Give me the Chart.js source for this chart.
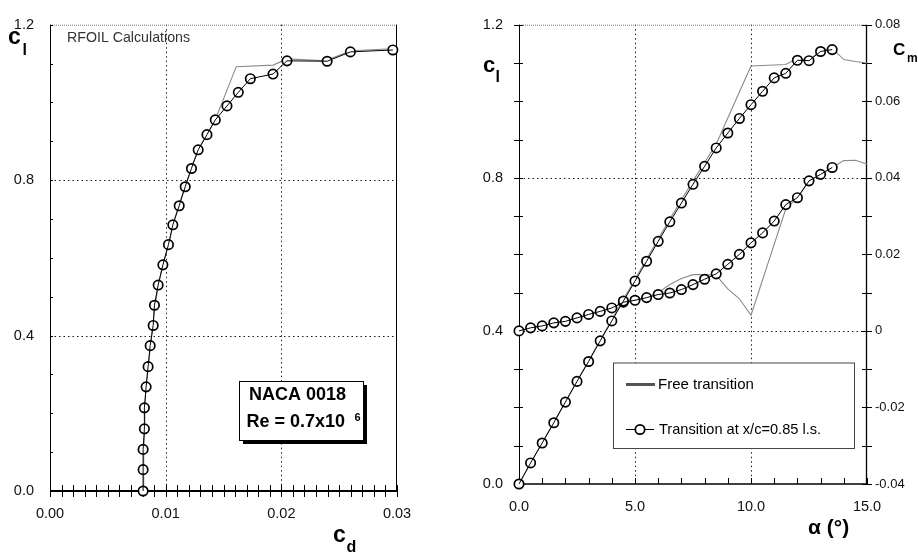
<!DOCTYPE html>
<html>
<head>
<meta charset="utf-8">
<script src="https://cdn.jsdelivr.net/npm/chart.js@4"></script>
<style>
  html, body { margin: 0; padding: 0; background: #fff; }
  #wrap { position: relative; width: 918px; height: 552px; }
  canvas { position: absolute; top: 0; }
  #polar { left: 0; }
  #alpha { left: 459px; }
</style>
</head>
<body>
<div id="wrap">
  <canvas id="polar" width="459" height="552"></canvas>
  <canvas id="alpha" width="459" height="552"></canvas>
</div>
<script>
// transition fixed at x/c = 0.85 lower surface
const fixedAlpha = [0, 0.5, 1, 1.5, 2, 2.5, 3, 3.5, 4, 4.5, 5, 5.5, 6, 6.5, 7, 7.5, 8, 8.5, 9, 9.5, 10, 10.5, 11, 11.5, 12, 12.5, 13, 13.5];
const fixedCl = [0, 0.055, 0.107, 0.160, 0.214, 0.268, 0.320, 0.374, 0.426, 0.478, 0.530, 0.582, 0.634, 0.685, 0.734, 0.783, 0.830, 0.878, 0.917, 0.955, 0.991, 1.026, 1.061, 1.073, 1.107, 1.106, 1.130, 1.135];
const fixedCd = [0.00805, 0.00805, 0.00805, 0.00816, 0.00816, 0.00831, 0.00848, 0.00866, 0.00892, 0.00903, 0.00935, 0.00976, 0.01024, 0.01062, 0.01117, 0.01169, 0.01223, 0.01281, 0.01357, 0.01429, 0.0153, 0.01628, 0.01732, 0.01928, 0.02049, 0.02396, 0.02597, 0.02964];
const fixedCm = [0, 0.0008, 0.0013, 0.0021, 0.0025, 0.0034, 0.0043, 0.0051, 0.0060, 0.0075, 0.0080, 0.0087, 0.0095, 0.0099, 0.0108, 0.0121, 0.0135, 0.0149, 0.0174, 0.0200, 0.0230, 0.0256, 0.0287, 0.0330, 0.0348, 0.0392, 0.0409, 0.0427];

// free transition
const freeAlpha = [0, 0.5, 1, 1.5, 2, 2.5, 3, 3.5, 4, 4.5, 5, 5.5, 6, 6.5, 7, 7.5, 8, 8.5, 9, 9.5, 10, 11.5, 12, 12.5, 13, 13.5, 14, 14.5, 15];
const freeCl = [0, 0.055, 0.108, 0.161, 0.215, 0.269, 0.322, 0.376, 0.430, 0.482, 0.535, 0.587, 0.640, 0.692, 0.742, 0.792, 0.840, 0.888, 0.956, 1.024, 1.092, 1.096, 1.112, 1.107, 1.133, 1.138, 1.109, 1.104, 1.100];
const freeCm = [0, 0.0008, 0.0013, 0.0021, 0.0025, 0.0034, 0.0043, 0.0051, 0.0060, 0.0072, 0.0079, 0.0088, 0.0100, 0.0121, 0.0137, 0.0147, 0.0147, 0.0145, 0.0110, 0.0084, 0.0041, 0.0319, 0.0348, 0.0392, 0.0409, 0.0427, 0.0445, 0.0446, 0.0436];
const freeCd = [0.0081, 0.0081, 0.0081, 0.0082, 0.0082, 0.0083, 0.0085, 0.0087, 0.0089, 0.0091, 0.0094, 0.0098, 0.0103, 0.0107, 0.0112, 0.0118, 0.0123, 0.0130, 0.0143, 0.0152, 0.0161, 0.0193, 0.0205, 0.0238, 0.0260, 0.0296, 0.0345];

const cdTicks = [0, 0.01, 0.02, 0.03];
const cdTickLabels = ['0.00', '0.01', '0.02', '0.03'];
const clTicks = [0, 0.4, 0.8, 1.2];
const clTickLabels = ['0.0', '0.4', '0.8', '1.2'];
const alphaTicks = [0, 5, 10, 15];
const alphaTickLabels = ['0.0', '5.0', '10.0', '15.0'];
const cmTicks = [-0.04, -0.02, 0, 0.02, 0.04, 0.06, 0.08];
const cmTickLabels = ['-0.04', '-0.02', '0', '0.02', '0.04', '0.06', '0.08'];

const FONT = "'Liberation Sans', Arial, sans-serif";
Chart.defaults.font.family = FONT;
Chart.defaults.color = '#111';

const pairs = (xs, ys) => xs.map((v, i) => ({x: v, y: ys[i]}));

function fixTicks(values) {
  return scale => { scale.ticks = values.map(v => ({value: v})); };
}

function seg(ctx, x1, y1, x2, y2) {
  ctx.beginPath(); ctx.moveTo(x1, y1); ctx.lineTo(x2, y2); ctx.stroke();
}

function txt(ctx, s, x, y, size, bold, color, base) {
  ctx.font = (bold ? 'bold ' : '') + size + 'px ' + FONT;
  ctx.fillStyle = color || '#000';
  ctx.textBaseline = base || 'alphabetic';
  ctx.textAlign = 'left';
  ctx.fillText(s, x, y);
}

// dotted grid, frame and small tick marks, all placed through the scales
function frame(cfg) {
  return {
    id: 'frame',
    beforeDatasetsDraw(chart) {
      const ctx = chart.ctx, a = chart.chartArea, sc = chart.scales;
      ctx.save();
      ctx.strokeStyle = '#1a1a1a';
      ctx.lineWidth = 1;
      ctx.setLineDash([1.5, 3]);
      cfg.gridX.forEach(v => {
        const p = Math.round(sc.x.getPixelForValue(v)) + 0.5;
        if (p > a.left + 2 && p < a.right - 2) seg(ctx, p, a.top, p, a.bottom);
      });
      cfg.gridY.forEach(v => {
        const p = Math.round(sc.y.getPixelForValue(v)) + 0.5;
        if (p > a.top + 2 && p < a.bottom - 2) seg(ctx, a.left, p, a.right, p);
      });
      ctx.strokeStyle = '#777';
      ctx.setLineDash([1, 1]);
      seg(ctx, a.left, a.top + 0.5, a.right, a.top + 0.5);
      ctx.setLineDash([]);

      ctx.strokeStyle = '#000';
      ctx.lineWidth = cfg.left; seg(ctx, a.left + 0.5, a.top, a.left + 0.5, a.bottom);
      ctx.lineWidth = cfg.right; seg(ctx, a.right - 0.5, a.top, a.right - 0.5, a.bottom);
      ctx.lineWidth = cfg.bottom; seg(ctx, a.left, a.bottom, a.right, a.bottom);

      ctx.lineWidth = 1;
      cfg.ticks.forEach(t => {
        const s = sc[t.scale];
        const n = Math.round((s.max - s.min) / t.step);
        for (let i = 0; i <= n; i++) {
          const p = Math.round(s.getPixelForValue(s.min + i * t.step)) + 0.5;
          if (t.side === 'bottom') seg(ctx, p, a.bottom - t.inn, p, a.bottom + t.out);
          else if (t.side === 'left') seg(ctx, a.left - t.out, p, a.left + t.inn, p);
          else seg(ctx, a.right - t.inn, p, a.right + t.out, p);
        }
      });
      ctx.restore();
    }
  };
}

const markerStyle = {
  showLine: false, pointRadius: 4.7, pointBorderWidth: 1.7,
  pointBackgroundColor: '#fff', pointBorderColor: '#000', clip: false
};
const thinBlack = {borderColor: '#000', borderWidth: 1, pointRadius: 0, fill: false};
const freeLine = {borderColor: '#8a8a8a', borderWidth: 1.1, pointRadius: 0, fill: false};

const commonOpts = {
  responsive: false,
  animation: false,
  events: [],
  plugins: {legend: {display: false}, tooltip: {enabled: false}},
};

// ---------------- left: polar ----------------
new Chart(document.getElementById('polar'), {
  type: 'line',
  data: {
    datasets: [
      Object.assign({data: pairs(freeCd, freeCl.slice(0, freeCd.length)), order: 3}, freeLine),
      Object.assign({data: pairs(fixedCd, fixedCl), order: 2}, markerStyle),
      Object.assign({data: pairs(fixedCd, fixedCl), order: 1}, thinBlack)
    ]
  },
  options: Object.assign({}, commonOpts, {
    layout: {padding: {top: 17, right: 62, left: 0, bottom: 0}},
    scales: {
      x: {
        type: 'linear', min: 0, max: 0.03,
        afterBuildTicks: fixTicks(cdTicks),
        afterFit: s => { s.height = 61; },
        grid: {display: false, drawTicks: false}, border: {display: false},
        ticks: {padding: 14, font: {size: 14.5}, autoSkip: false, maxRotation: 0,
                callback: (v, i) => cdTickLabels[i]}
      },
      y: {
        type: 'linear', min: 0, max: 1.2,
        afterBuildTicks: fixTicks(clTicks),
        afterFit: s => { s.width = 50; },
        grid: {display: false, drawTicks: false}, border: {display: false},
        ticks: {padding: 16, font: {size: 14.5}, autoSkip: false,
                callback: (v, i) => clTickLabels[i]}
      }
    }
  }),
  plugins: [
    frame({gridX: cdTicks, gridY: clTicks, left: 1, right: 1, bottom: 2,
           ticks: [{scale: 'x', side: 'bottom', step: 0.001, inn: 6, out: 6},
                   {scale: 'y', side: 'left', step: 0.1, inn: 3, out: 0}]}),
    {
      id: 'polarText',
      afterDraw(chart) {
        const ctx = chart.ctx;
        ctx.save();
        txt(ctx, 'c', 8, 43.5, 23, true);
        txt(ctx, 'l', 22.5, 55, 16, true);
        txt(ctx, 'c', 333, 542, 23, true);
        txt(ctx, 'd', 346.5, 552, 16, true);
        txt(ctx, 'RFOIL Calculations', 67, 38, 14.2, false, '#333', 'middle');
        // info box with drop shadow
        ctx.fillStyle = '#000';
        ctx.fillRect(243, 385, 124, 59);
        ctx.fillStyle = '#fff';
        ctx.fillRect(239.5, 381.5, 124, 59);
        ctx.strokeStyle = '#000'; ctx.lineWidth = 1;
        ctx.strokeRect(239.5, 381.5, 124, 59);
        txt(ctx, 'NACA 0018', 249, 400, 18, true);
        txt(ctx, 'Re = 0.7x10', 246.5, 427, 18, true);
        txt(ctx, '6', 354.5, 421, 11, true);
        ctx.restore();
      }
    }
  ]
});

// ---------------- right: cl and cm vs alpha ----------------
new Chart(document.getElementById('alpha'), {
  type: 'line',
  data: {
    datasets: [
      Object.assign({data: pairs(freeAlpha, freeCl), yAxisID: 'y', order: 3}, freeLine),
      Object.assign({data: pairs(freeAlpha, freeCm), yAxisID: 'y1', order: 3}, freeLine),
      Object.assign({data: pairs(fixedAlpha, fixedCl), yAxisID: 'y', order: 2}, markerStyle),
      Object.assign({data: pairs(fixedAlpha, fixedCm), yAxisID: 'y1', order: 2}, markerStyle),
      Object.assign({data: pairs(fixedAlpha, fixedCl), yAxisID: 'y', order: 1}, thinBlack),
      Object.assign({data: pairs(fixedAlpha, fixedCm), yAxisID: 'y1', order: 1}, thinBlack)
    ]
  },
  options: Object.assign({}, commonOpts, {
    layout: {padding: {top: 23, right: 0, left: 0, bottom: 0}},
    scales: {
      x: {
        type: 'linear', min: 0, max: 15,
        afterBuildTicks: fixTicks(alphaTicks),
        afterFit: s => { s.height = 68; },
        grid: {display: false, drawTicks: false}, border: {display: false},
        ticks: {padding: 14, font: {size: 14.5}, autoSkip: false, maxRotation: 0,
                callback: (v, i) => alphaTickLabels[i]}
      },
      y: {
        type: 'linear', position: 'left', min: 0, max: 1.2,
        afterBuildTicks: fixTicks(clTicks),
        afterFit: s => { s.width = 60; },
        grid: {display: false, drawTicks: false}, border: {display: false},
        ticks: {padding: 16, font: {size: 14.5}, autoSkip: false,
                callback: (v, i) => clTickLabels[i]}
      },
      y1: {
        type: 'linear', position: 'right', min: -0.04, max: 0.08,
        afterBuildTicks: fixTicks(cmTicks),
        afterFit: s => { s.width = 51; },
        grid: {display: false, drawTicks: false}, border: {display: false},
        ticks: {padding: 8, font: {size: 13}, autoSkip: false,
                callback: (v, i) => cmTickLabels[i]}
      }
    }
  }),
  plugins: [
    frame({gridX: alphaTicks, gridY: clTicks, left: 1, right: 1.3, bottom: 1.5,
           ticks: [{scale: 'x', side: 'bottom', step: 1, inn: 6, out: 0},
                   {scale: 'y', side: 'left', step: 0.1, inn: 4, out: 5},
                   {scale: 'y1', side: 'right', step: 0.01, inn: 5, out: 5}]}),
    {
      id: 'alphaText',
      afterDraw(chart) {
        const ctx = chart.ctx;
        ctx.save();
        txt(ctx, 'c', 24, 72, 22, true);
        txt(ctx, 'l', 36.5, 82, 16, true);
        txt(ctx, 'C', 434, 55, 17, true);
        txt(ctx, 'm', 448, 61.5, 12, true);
        txt(ctx, '\u03b1 (\u00b0)', 349, 533.5, 21, true);
        // legend box
        ctx.fillStyle = '#fff';
        ctx.fillRect(154.5, 363, 241, 85.5);
        ctx.strokeStyle = '#444'; ctx.lineWidth = 1;
        ctx.strokeRect(154.5, 363, 241, 85.5);
        ctx.strokeStyle = '#555'; ctx.lineWidth = 3;
        seg(ctx, 167, 384.5, 196, 384.5);
        txt(ctx, 'Free transition', 199, 385, 15, false, '#000', 'middle');
        ctx.strokeStyle = '#000'; ctx.lineWidth = 1;
        seg(ctx, 167, 429.5, 195, 429.5);
        ctx.beginPath(); ctx.arc(181, 429.5, 4.7, 0, Math.PI * 2);
        ctx.fillStyle = '#fff'; ctx.fill();
        ctx.lineWidth = 1.7; ctx.stroke();
        txt(ctx, 'Transition at x/c=0.85 l.s.', 200, 430, 14.6, false, '#000', 'middle');
        ctx.restore();
      }
    }
  ]
});
</script>
</body>
</html>
